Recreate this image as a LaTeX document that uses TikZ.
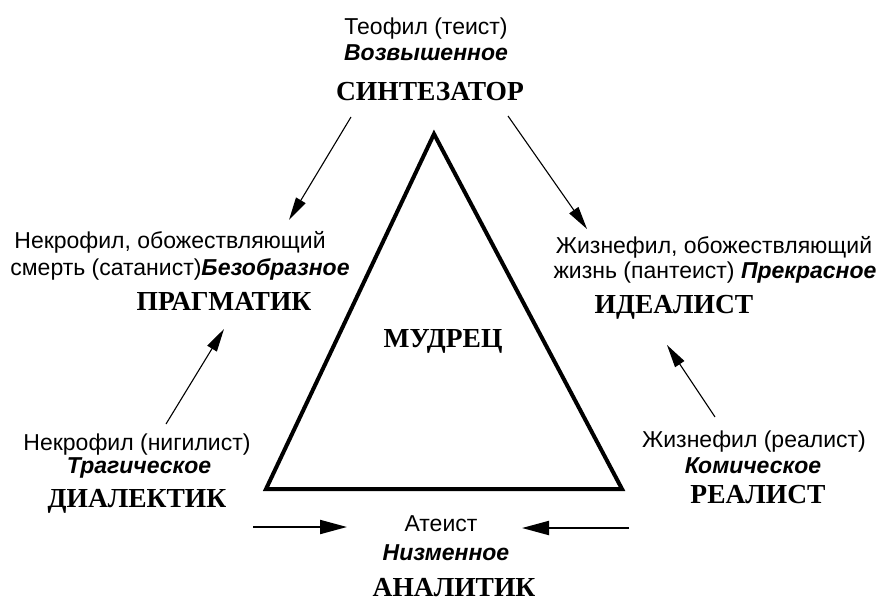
\documentclass[tikz,border=0pt]{standalone}
\usepackage{fontspec}
\setmainfont{Liberation Serif}
\setsansfont{Liberation Sans}
\usetikzlibrary{arrows.meta}

\begin{document}
\begin{tikzpicture}[x=1pt, y=-1pt,
	txt/.style={anchor=base, inner sep=0pt, font=\sffamily\fontsize{23}{27}\selectfont},
	aes/.style={anchor=base, inner sep=0pt, font=\sffamily\bfseries\itshape\fontsize{23}{27}\selectfont},
	role/.style={anchor=base, inner sep=0pt, font=\bfseries\fontsize{27.5}{31}\selectfont},
	thinarr/.style={-{Triangle[length=23pt, width=11pt]}, line width=1.1pt},
	thickarr/.style={-{Triangle[length=27pt, width=14pt]}, line width=2pt}]

	\useasboundingbox (0,0) rectangle (880,597);

	\node[txt]  (theo)   at (426, 34)  {Теофил (теист)};
	\node[aes]  (theoA)  at (426, 60)  {Возвышенное};
	\node[role] (synth)  at (430, 100) {СИНТЕЗАТОР};

	\node[txt]  (necroA) at (170, 248) {Некрофил, обожествляющий};
	\node[txt]  (necroB) at (180, 275) {смерть (сатанист)\textbf{\textit{Безобразное}}};
	\node[role] (prag)   at (224, 310) {ПРАГМАТИК};

	\node[txt]  (vitalA) at (714, 253) {Жизнефил, обожествляющий};
	\node[txt]  (vitalB) at (715, 278) {жизнь (пантеист) \textbf{\textit{Прекрасное}}};
	\node[role] (ideal)  at (674, 313) {ИДЕАЛИСТ};

	\node[role] (sage)   at (443, 347) {МУДРЕЦ};

	\node[txt]  (nihil)  at (137, 450) {Некрофил (нигилист)};
	\node[aes]  (nihilA) at (139, 473) {Трагическое};
	\node[role] (dial)   at (137, 507) {ДИАЛЕКТИК};

	\node[txt]  (realA)  at (754, 447) {Жизнефил (реалист)};
	\node[aes]  (realB)  at (753, 473) {Комическое};
	\node[role] (real)   at (758, 503) {РЕАЛИСТ};

	\node[txt]  (athe)   at (441, 531) {Атеист};
	\node[aes]  (atheA)  at (446, 560) {Низменное};
	\node[role] (anal)   at (454, 596) {АНАЛИТИК};

	% triangle
	\coordinate (top) at (434, 134);
	\coordinate (bl)  at (266, 489);
	\coordinate (br)  at (622, 489);
	\draw[line width=4pt, line join=miter] (top) -- (bl) -- (br) -- cycle;

	% arrow ends
	\coordinate (s1) at (351, 117);  \coordinate (t1) at (289, 220);
	\coordinate (s2) at (508, 116);  \coordinate (t2) at (587, 229);
	\coordinate (s3) at (166, 424);  \coordinate (t3) at (224, 329);
	\coordinate (s4) at (715, 417);  \coordinate (t4) at (667, 345);
	\coordinate (s5) at (253, 527);  \coordinate (t5) at (347, 527);
	\coordinate (s6) at (629, 528);  \coordinate (t6) at (522, 528);

	\path[thinarr] (s1) edge (t1);
	\path[thinarr] (s2) edge (t2);
	\path[thinarr] (s3) edge (t3);
	\path[thinarr] (s4) edge (t4);
	\path[thickarr] (s5) edge (t5);
	\path[thickarr] (s6) edge (t6);

\end{tikzpicture}
\end{document}
